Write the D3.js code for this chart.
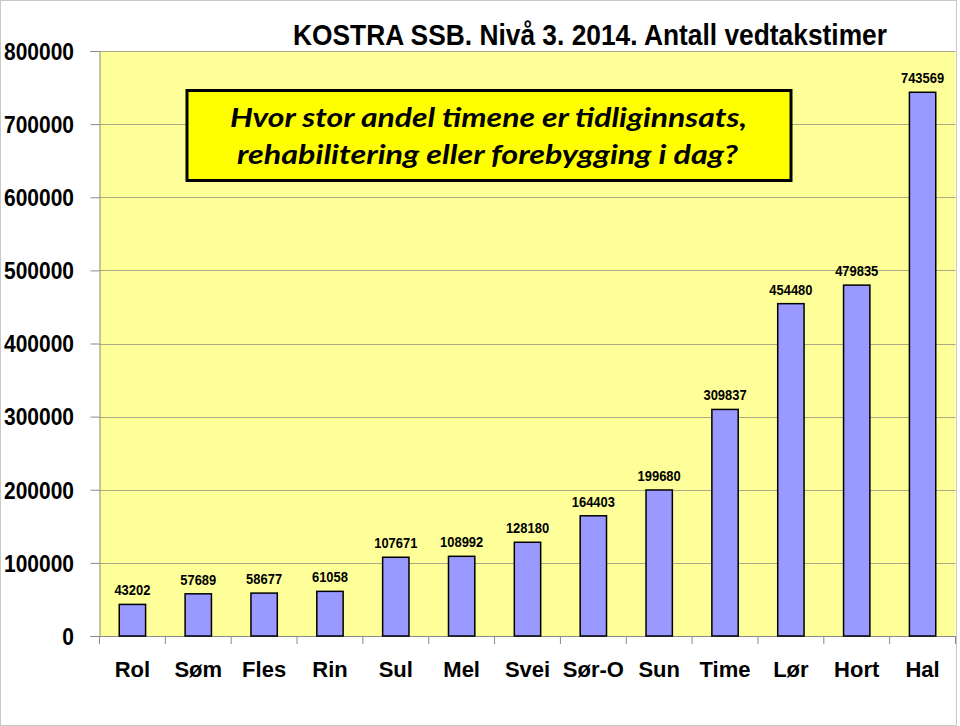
<!DOCTYPE html>
<html><head><meta charset="utf-8">
<script src="https://cdn.jsdelivr.net/npm/d3@7"></script>
<style>body{margin:0;background:#fff}svg{display:block}</style>
</head><body>
<script>
const categories = ["Rol","Søm","Fles","Rin","Sul","Mel","Svei","Sør-O","Sun","Time","Lør","Hort","Hal"];
const values = [43202,57689,58677,61058,107671,108992,128180,164403,199680,309837,454480,479835,743569];
const yTicks = [0,100000,200000,300000,400000,500000,600000,700000,800000];
const title = "KOSTRA SSB. Nivå 3. 2014. Antall vedtakstimer";
const boxLines = ["Hvor stor andel timene er tidliginnsats,","rehabilitering eller forebygging i dag?"];

(function(){
const W = 960, H = 726;
const svg = d3.select("body").append("svg").attr("width", W).attr("height", H);
svg.append("rect").attr("x",0.5).attr("y",0.5).attr("width",956).attr("height",725)
  .attr("fill","#fff").attr("stroke","#c8c8c8");

const pl = 99.5, pr = 955.5, pt = 51, pb = 636;
const x = d3.scaleBand().domain(categories).range([pl,pr]).paddingInner(0).paddingOuter(0);
const y = d3.scaleLinear().domain([0,800000]).range([pb, pt]);

svg.append("rect").attr("x",pl).attr("y",pt).attr("width",pr-pl).attr("height",pb-pt)
  .attr("fill","#FFFF99");

// gridlines
svg.append("g").selectAll("line").data(yTicks.filter(d=>d>0)).join("line")
  .attr("x1",pl).attr("x2",pr)
  .attr("y1",d=>Math.round(y(d))+0.5).attr("y2",d=>Math.round(y(d))+0.5)
  .attr("stroke","#aaaa88").attr("stroke-width",1);

// y axis
const yAxis = svg.append("g").attr("transform",`translate(${pl},0)`)
  .call(d3.axisLeft(y).tickValues(yTicks).tickSize(9).tickFormat(d3.format("d")));
yAxis.select(".domain").attr("stroke","#8a8a8a");
yAxis.selectAll(".tick line").attr("stroke","#8a8a8a");
yAxis.selectAll(".tick text").attr("x",-25.5).attr("dy","0.36em")
  .attr("font-family","'Liberation Sans', Arial, sans-serif").attr("font-weight","bold")
  .attr("font-size",23).attr("fill","#000")
  .each(function(d){ const n=String(d).length; d3.select(this).attr("textLength", n*11.67).attr("lengthAdjust","spacingAndGlyphs"); });

// x axis
const xAxis = svg.append("g").attr("transform",`translate(0,${pb})`)
  .call(d3.axisBottom(x).tickSize(0).tickFormat(d=>d));
xAxis.select(".domain").attr("stroke","#8a8a8a");
xAxis.selectAll(".tick text").attr("y",41).attr("dy",0)
  .attr("font-family","'Liberation Sans', Arial, sans-serif").attr("font-weight","bold")
  .attr("font-size",22).attr("fill","#000");
// category separator ticks
const bounds = categories.map(c=>x(c)).concat([pr]);
svg.append("g").selectAll("line").data(bounds).join("line")
  .attr("x1",d=>d).attr("x2",d=>d).attr("y1",pb).attr("y2",pb+8)
  .attr("stroke","#8a8a8a");

// bars
const bw = x.bandwidth()*0.4;
svg.append("g").selectAll("rect").data(values).join("rect")
  .attr("x",(d,i)=>x(categories[i])+x.bandwidth()/2-bw/2)
  .attr("y",d=>y(d)).attr("width",bw).attr("height",d=>y(0)-y(d))
  .attr("fill","#9999FF").attr("stroke","#000").attr("stroke-width",1.5);

// value labels
svg.append("g").selectAll("text").data(values).join("text")
  .attr("x",(d,i)=>x(categories[i])+x.bandwidth()/2)
  .attr("y",d=>y(d)-9)
  .attr("text-anchor","middle")
  .attr("font-family","'Liberation Sans', Arial, sans-serif").attr("font-weight","bold")
  .attr("font-size",15.5).attr("fill","#000")
  .attr("textLength",d=>String(d).length*7.2).attr("lengthAdjust","spacingAndGlyphs")
  .text(d=>d);

// title
svg.append("text").attr("x",293).attr("y",45)
  .attr("font-family","'Liberation Sans', Arial, sans-serif").attr("font-size",30).attr("font-weight","bold")
  .attr("fill","#000").attr("textLength",594).attr("lengthAdjust","spacingAndGlyphs")
  .text(title);

// question box
svg.append("rect").attr("x",187).attr("y",90.5).attr("width",604).attr("height",90)
  .attr("fill","#FFFF00").attr("stroke","#000").attr("stroke-width",3);
const boxWidths = [517, 501];
const boxX = [230, 237];
const boxY = [127, 164];
svg.append("g").selectAll("text").data(boxLines).join("text")
  .attr("x",(d,i)=>boxX[i]).attr("y",(d,i)=>boxY[i])
  .attr("font-family","Lato, 'Open Sans', sans-serif").attr("font-style","italic").attr("font-weight","bold")
  .attr("font-size",27).attr("fill","#000")
  .attr("textLength",(d,i)=>boxWidths[i]).attr("lengthAdjust","spacingAndGlyphs")
  .text(d=>d);
})();
</script>
</body></html>
